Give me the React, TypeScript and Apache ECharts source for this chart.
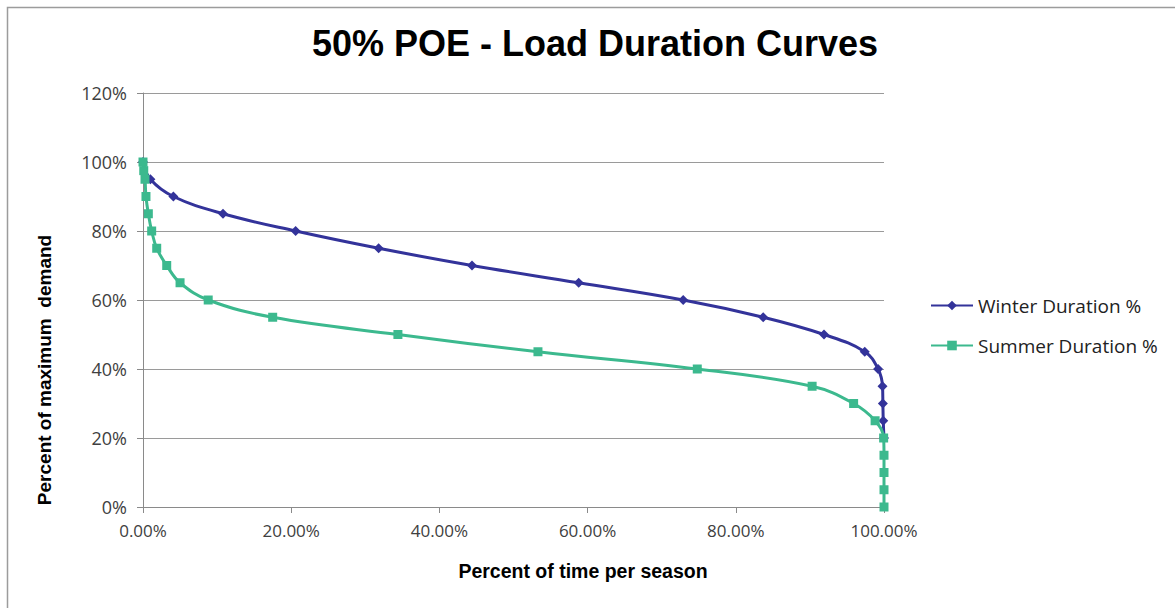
import React, { useEffect, useRef } from "react";
import * as echarts from "echarts";

const chartTitle = "50% POE - Load Duration Curves";
const xAxisTitle = "Percent of time per season";
const yAxisTitle = "Percent of maximum  demand";

const winterName = "Winter Duration %";
const winterX = [0, 1.0, 4.1, 10.8, 20.6, 31.8, 44.4, 58.8, 72.9, 83.7, 91.9, 97.4, 99.2, 99.8, 99.85, 99.9, 100];
const winterY = [100, 95, 90, 85, 80, 75, 70, 65, 60, 55, 50, 45, 40, 35, 30, 25, 20];

const summerName = "Summer Duration %";
const summerX = [0, 0.1, 0.27, 0.4, 0.72, 1.17, 1.85, 3.2, 5.0, 8.8, 17.5, 34.4, 53.3, 74.8, 90.3, 95.9, 98.8, 99.95, 100, 100, 100, 100];
const summerY = [100, 97.5, 95, 90, 85, 80, 75, 70, 65, 60, 55, 50, 45, 40, 35, 30, 25, 20, 15, 10, 5, 0];

const xTicks = { min: 0, max: 100, interval: 20 };
const yTicks = { min: 0, max: 120, interval: 20 };

const winterColor = "#33339a";
const summerColor = "#3cb98e";

export default function App() {
  const ref = useRef<HTMLDivElement>(null);

  useEffect(() => {
    if (!ref.current) return;
    const chart = echarts.init(ref.current, undefined, { renderer: "svg" });
    const tickFont = { fontFamily: "Open Sans", fontSize: 17, color: "#404040" };
    chart.setOption({
      animation: false,
      backgroundColor: "#ffffff",
      title: {
        text: chartTitle,
        left: 307,
        top: 20,
        textStyle: { fontFamily: "Liberation Sans", fontWeight: "bold", fontSize: 36, color: "#000" },
      },
      legend: {
        orient: "vertical",
        left: 925,
        top: 291,
        itemWidth: 42,
        itemHeight: 12,
        itemGap: 21,
        textStyle: { fontFamily: "Open Sans", fontSize: 19, color: "#222" },
        data: [winterName, summerName],
      },
      grid: { left: 143, right: 291, top: 93, bottom: 101, containLabel: false },
      xAxis: {
        type: "value",
        min: xTicks.min,
        max: xTicks.max,
        interval: xTicks.interval,
        axisLine: { show: true, lineStyle: { color: "#8a8a8a", width: 1 } },
        axisTick: { show: true, length: 6, lineStyle: { color: "#8a8a8a" } },
        splitLine: { show: false },
        axisLabel: { ...tickFont, margin: 15, formatter: (v: number) => v.toFixed(2) + "%" },
      },
      yAxis: {
        type: "value",
        min: yTicks.min,
        max: yTicks.max,
        interval: yTicks.interval,
        axisLine: { show: true, lineStyle: { color: "#8a8a8a", width: 1 } },
        axisTick: { show: true, length: 6, lineStyle: { color: "#8a8a8a" } },
        splitLine: { show: true, lineStyle: { color: "#9a9a9a", width: 1 } },
        axisLabel: { ...tickFont, fontSize: 18, margin: 16, formatter: "{value}%" },
      },
      graphic: [
        {
          type: "rect",
          shape: { x: 7.5, y: 7.5, width: 1300, height: 800 },
          style: { fill: "none", stroke: "#9c9c9c", lineWidth: 1.5 },
          silent: true,
        },
        {
          type: "text",
          x: 583,
          y: 571,
          style: {
            text: xAxisTitle,
            fontFamily: "Liberation Sans",
            fontWeight: "bold",
            fontSize: 19.5,
            fill: "#000",
            textAlign: "center",
            textVerticalAlign: "middle",
          },
        },
        {
          type: "text",
          x: 44,
          y: 370,
          rotation: Math.PI / 2,
          style: {
            text: yAxisTitle,
            fontFamily: "Liberation Sans",
            fontWeight: "bold",
            fontSize: 19,
            fill: "#000",
            textAlign: "center",
            textVerticalAlign: "middle",
          },
        },
      ],
      series: [
        {
          name: winterName,
          type: "line",
          smooth: 0.4,
          data: winterX.map((x, i) => [x, winterY[i]]),
          symbol: "diamond",
          symbolSize: 10,
          lineStyle: { color: winterColor, width: 3 },
          itemStyle: { color: winterColor },
          z: 2,
        },
        {
          name: summerName,
          type: "line",
          smooth: 0.4,
          data: summerX.map((x, i) => [x, summerY[i]]),
          symbol: "rect",
          symbolSize: 9,
          lineStyle: { color: summerColor, width: 3 },
          itemStyle: { color: summerColor },
          z: 3,
        },
      ],
    });
    return () => chart.dispose();
  }, []);

  return <div ref={ref} style={{ position: "absolute", left: 0, top: 0, width: 1175, height: 608 }} />;
}
